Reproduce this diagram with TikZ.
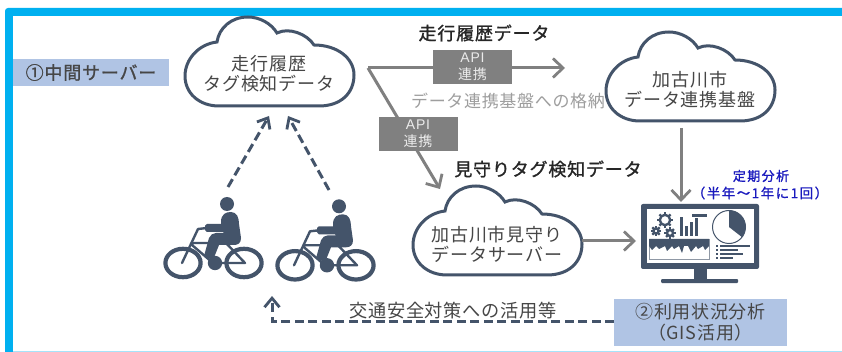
\documentclass[tikz,border=0pt]{standalone}
\usepackage{fontspec}
\setmainfont{Liberation Sans}
\newfontfamily\cjk[LetterSpace=4]{Noto Sans CJK JP}
\newfontfamily\cjkm[LetterSpace=4.5,FakeBold=1.2]{Noto Sans CJK JP}
\newfontfamily\cjkb[LetterSpace=11,FakeBold=1.2]{Noto Sans CJK JP}
\newfontfamily\apifont[LetterSpace=6]{Liberation Sans}
\usetikzlibrary{arrows.meta}
\definecolor{frameblue}{RGB}{0,176,240}
\definecolor{slate}{RGB}{68,84,106}
\definecolor{boxblue}{RGB}{176,196,228}
\definecolor{midgrey}{RGB}{128,128,128}
\definecolor{txtgrey}{RGB}{70,70,70}
\definecolor{navyb}{RGB}{25,25,190}
\tikzset{
  cloudline/.style={draw=slate,line width=3pt,fill=white},
  cloudtext/.style={font=\cjk\fontsize{18}{20}\selectfont,text=txtgrey,align=center,inner sep=0pt},
  headtext/.style={font=\cjkm\fontsize{18}{20}\selectfont,text=black!85,inner sep=0pt},
  apibox/.style={fill=midgrey,text=white!92!black,minimum width=79pt,minimum height=34pt,inner sep=0pt,align=center,font=\cjk\fontsize{14}{17.5}\selectfont},
  bluebox/.style={fill=boxblue,inner sep=0pt,align=center,text=txtgrey,font=\cjk\fontsize{18}{21}\selectfont},
  flow/.style={draw=midgrey,line width=3pt,-{Straight Barb[length=10pt,width=19pt,line width=2.8pt]}},
  dashflow/.style={draw=slate,line width=3pt,dash pattern=on 9pt off 4.5pt,-{Straight Barb[length=9pt,width=15pt,line width=2.8pt]}},
  bikeline/.style={draw=slate,line width=2.4pt,line cap=round,line join=round},
  dark/.style={fill=slate,draw=none},
  bluetext/.style={text=navyb,inner sep=0pt},
}
\newcommand{\cloudat}[2]{%
  \path[cloudline,shift={(#1,#2)}] (-50,45) -- (50,45)
    .. controls (72,45) and (85,32) .. (85,14)
    .. controls (85,-3) and (68,-16) .. (45,-16)
    .. controls (38,-27) and (20,-34) .. (8,-28)
    .. controls (2,-38) and (-10,-44) .. (-21,-44)
    .. controls (-38,-44) and (-50,-33) .. (-52,-19)
    .. controls (-70,-17) and (-84,-2) .. (-84,15)
    .. controls (-84,32) and (-70,45) .. (-50,45) -- cycle;}
\newcommand{\rider}[2]{%
  \begin{scope}[shift={(#1,#2)}]
    \draw[slate,line width=4.2pt] (183,263) ellipse [x radius=17.6pt,y radius=14.2pt];
    \draw[slate,line width=4.2pt] (244,263) ellipse [x radius=17.6pt,y radius=14.2pt];
    \draw[bikeline] (182,263) -- (198,229) -- (207,228);
    \draw[bikeline] (192,245) -- (213,263) -- (245,263) -- (226,243) -- (192,243);
    \fill[slate] (227,204) circle [radius=7pt];
    \path[dark] (221,222) .. controls (221,214) and (226,212) .. (231,212)
       .. controls (237,212) and (239,218) .. (239,224) -- (241,238)
       .. controls (241,243) and (238,245) .. (234,245) -- (219,245)
       -- (213,260) -- (204,256) -- (209,238)
       .. controls (210,235) and (213,233) .. (216,233) -- (224,233) -- (223,232)
       -- (207,232) .. controls (204,231) and (204,224.5) .. (207,224) -- (221,224) -- cycle;
    \fill[slate] (215,263) circle [radius=7.2pt];
  \end{scope}}
\newcommand{\gear}[3]{%
  \draw[slate,line width=2.4pt] (#1,#2) circle [radius=#3pt];
  \foreach \a in {0,45,...,315}{\draw[slate,line width=2.2pt] (#1,#2) ++(\a:#3pt) -- ++(\a:2.6pt);}}
\begin{document}
\begin{tikzpicture}[x=1pt,y=-1pt]
\useasboundingbox (0,0) rectangle (842,352);
\fill[white] (0,0) rectangle (842,352);
% frame
\fill[frameblue,rounded corners=3pt] (5,8) rectangle (860,370);
\fill[white] (13,16) rectangle (842,352);
\fill[frameblue!35] (13,350.6) rectangle (842,352);
% clouds
\cloudat{269}{61}
\cloudat{690}{76}
\cloudat{497}{230}
\node[cloudtext] (tagcloud) at (269,74) {走行履歴\\タグ検知データ};
\node[cloudtext] (kikan) at (690,90) {加古川市\\データ連携基盤};
\node[cloudtext] (server) at (497,244) {加古川市見守り\\データサーバー};
% label boxes
\node[bluebox,minimum width=156pt,minimum height=27pt] (chukan) at (91,72.5) {\cjkm\fontsize{18}{21}\selectfont ①中間サーバー};
\node[bluebox,minimum width=173pt,minimum height=47pt] (riyo) at (700.5,322.5) {②利用状況分析\\（GIS活用）};
% monitor
\node[minimum width=118pt,minimum height=65pt,inner sep=0pt,fill=slate,rounded corners=2pt] (monitor) at (700,236.5) {};
\fill[white] (646.5,209.5) rectangle (753.5,263);
\fill[slate] (694,269) rectangle (707,280);
\fill[slate,rounded corners=1pt] (661,279) rectangle (738,283);
\gear{665}{220}{5.2}
\gear{656}{231}{2.6}
\gear{670}{233}{3}
\fill[slate] (680,217) rectangle (682.5,236.5);
\fill[slate] (685,226) rectangle (687.5,236.5);
\fill[slate] (690,222) rectangle (692.5,236.5);
\fill[slate] (695,218) rectangle (697.5,236.5);
\fill[slate] (692,214.5) rectangle (707,217.5);
\draw[slate,line width=1pt,fill=white] (729,227) circle [radius=16.5pt];
\fill[slate] (729,227) -- (729,210.5) arc [start angle=90,end angle=-38,radius=16.5pt] -- cycle;
\draw[slate!60,line width=.7pt] (649,239) rectangle (709,259);
\fill[slate] (649,239) -- (709,239) -- (709,246) -- (705,250) -- (703,246) -- (698,249) -- (696,246) -- (691,252) -- (688,246) -- (684,246) -- (682,253) -- (679,246) -- (674,249) -- (672,246) -- (667,251) -- (665,246) -- (659,249) -- (656,246) -- (652,250) -- (649,246) -- cycle;
\foreach \yy/\xx in {246.5/750,250.5/738,254/743,258/733}{
  \fill[slate] (715.5,\yy-1) rectangle (717.5,\yy+1);
  \fill[slate] (720,\yy-1) rectangle (\xx,\yy+.8);}
% riders
\rider{0}{0}
\rider{112}{2.3}
% connector ends
\coordinate (hub) at (368,68);
\coordinate (kikanin) at (565,68);
\coordinate (serverin) at (440,189);
\coordinate (kikanout) at (681,128);
\coordinate (monitorin) at (681,202);
\coordinate (serverout) at (582,241);
\coordinate (monitorleft) at (636,241);
\coordinate (r1top) at (228,187);
\coordinate (r2top) at (329,190);
\coordinate (tagl) at (269,116);
\coordinate (tagr) at (288,116);
\coordinate (riyoleft) at (614,321);
\coordinate (corner) at (272,321);
\coordinate (rideback) at (272,296);
% connectors
\draw[flow] (hub) -- (kikanin);
\draw[flow,line join=miter] (hub) -- (serverin);
\draw[flow] (kikanout) -- (monitorin);
\draw[flow] (serverout) -- (monitorleft);
\draw[dashflow] (r1top) -- (tagl);
\draw[dashflow] (r2top) -- (tagr);
\draw[dashflow] (riyoleft) -- (corner) -- (rideback);
% API boxes
\node[apibox] (api1) at (472.5,67) {\apifont API\\連携};
\node[apibox] (api2) at (418,134) {\apifont API\\連携};
% labels
\node[headtext] (h1) at (484,33) {走行履歴データ};
\node[headtext] (h2) at (548,169) {見守りタグ検知データ};
\node[inner sep=0pt,font=\cjk\fontsize{17}{20}\selectfont,text=black!38] (store) at (508,101) {データ連携基盤への格納};
\node[inner sep=0pt,font=\cjk\fontsize{18.2}{20}\selectfont,text=txtgrey] (use) at (453,311) {交通安全対策への活用等};
\node[bluetext,font=\cjkb\fontsize{13}{14}\selectfont] (t1) at (761,176) {定期分析};
\node[bluetext,font=\cjkb\fontsize{13.5}{14}\selectfont] (t2) at (760,193) {（半年～1年に1回）};
\end{tikzpicture}
\end{document}
